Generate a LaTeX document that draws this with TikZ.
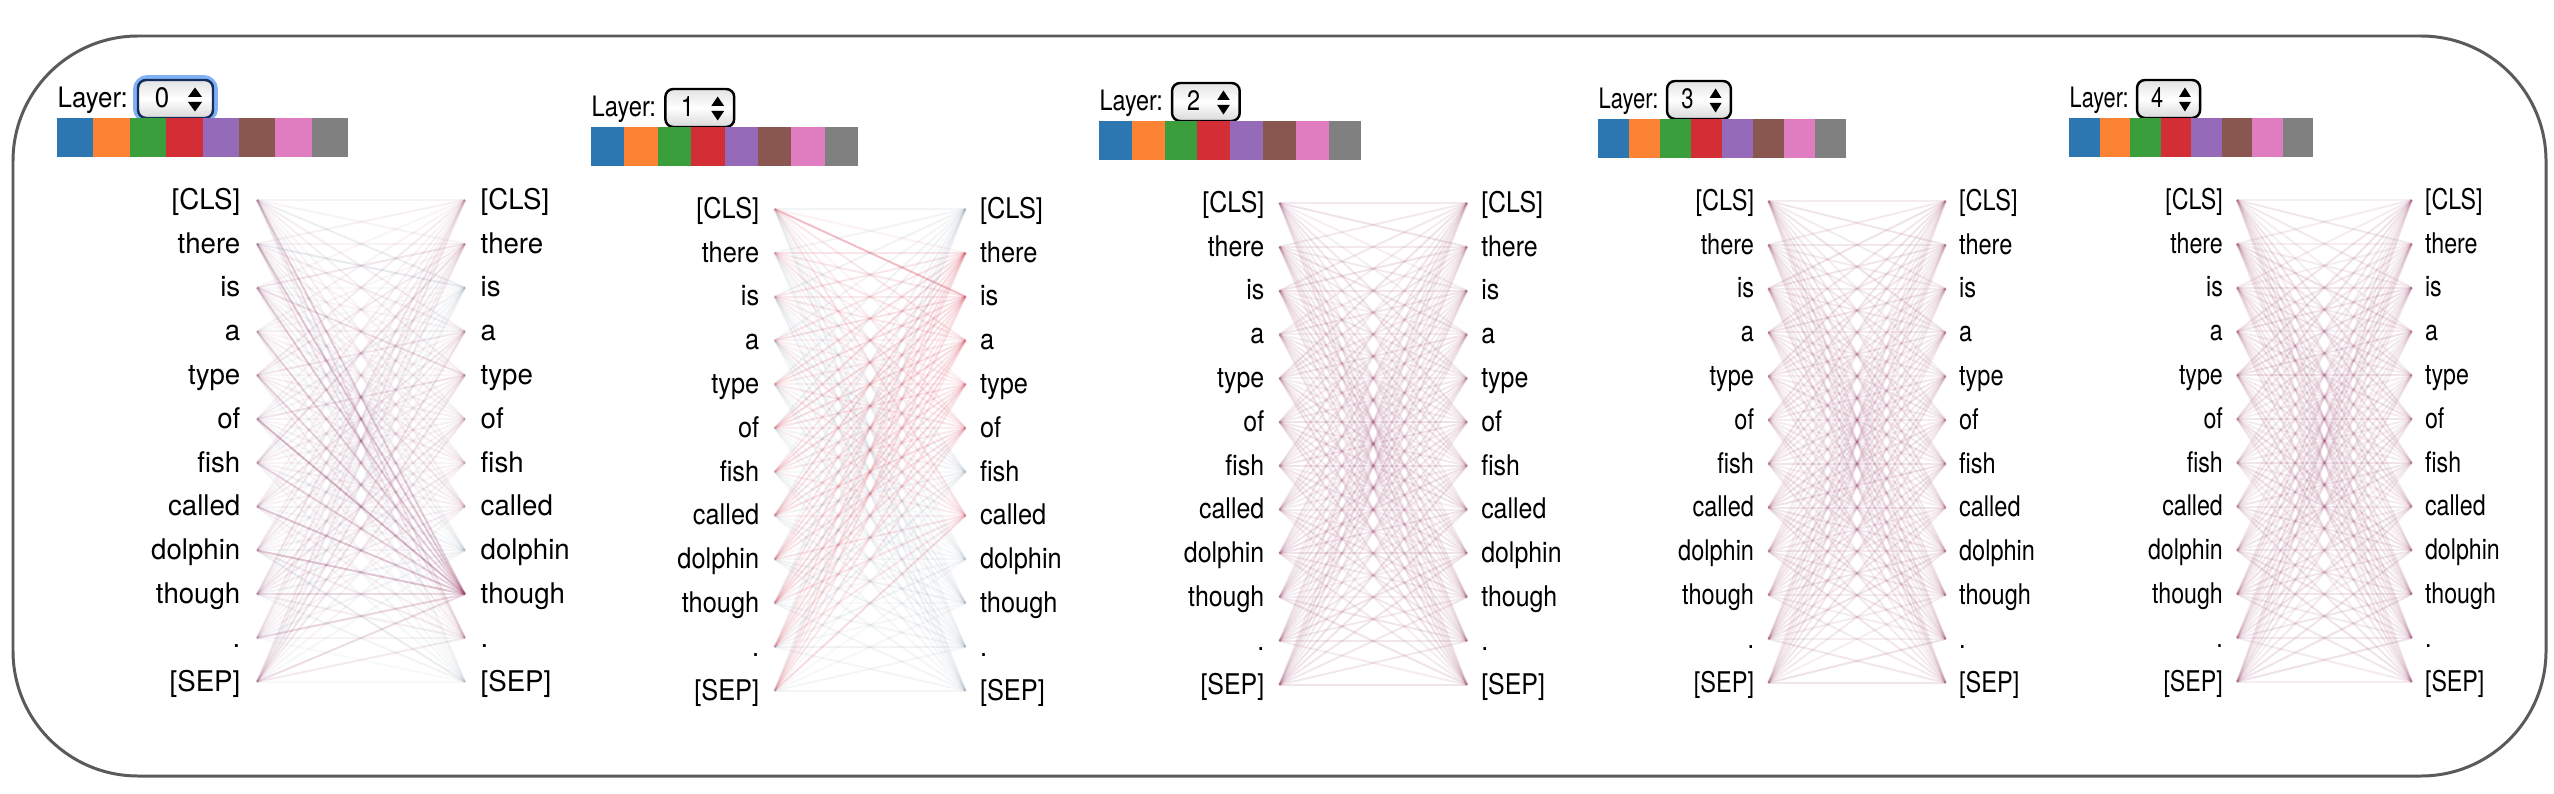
\documentclass[tikz,border=0pt]{standalone}
\usepackage{fontspec}
\setmainfont{TeX Gyre Heros}
\usepackage{graphicx}
\definecolor{hA}{HTML}{2C77B1}
\definecolor{hB}{HTML}{FC8234}
\definecolor{hC}{HTML}{3A9E3D}
\definecolor{hD}{HTML}{D32D35}
\definecolor{hE}{HTML}{956AB8}
\definecolor{hF}{HTML}{8A5750}
\definecolor{hG}{HTML}{DF7DC0}
\definecolor{hH}{HTML}{808080}
\definecolor{mauve}{RGB}{150,60,100}
\definecolor{redline}{RGB}{215,70,90}
\definecolor{greyline}{RGB}{120,140,160}
\definecolor{framegrey}{RGB}{90,90,90}
\definecolor{ringblue}{RGB}{128,176,246}
\definecolor{navy}{RGB}{20,45,90}
\tikzset{
  tok/.style={inner sep=0pt,font=\fontsize{8.1pt}{9.7pt}\selectfont,text=black},
  lbl/.style={inner sep=0pt,font=\fontsize{8pt}{9.6pt}\selectfont,text=black},
  att/.style={line width=0.55pt},
  selbox/.style={line width=0.7pt,rounded corners=0.08cm,top color=gray!22,bottom color=gray!30,middle color=white},
  frame/.style={draw=framegrey,line width=0.85pt,rounded corners=1.25cm},
}
\newcommand\attpanel[6]{%
  \pgfmathsetmacro\txs{0.92*#4}%
  \pgfmathsetmacro\tks{0.97*#4}%
  \begin{scope}[shift={(#2,#3)},xscale=#4]
    \node[lbl,anchor=base west] (#1lay) at (0,108) {\scalebox{\txs}[1]{Layer:}};
    \draw[selbox,draw=#6] (81,80) rectangle (156,118);
    \node[lbl,anchor=base] (#1num) at (105,108) {\scalebox{\txs}[1]{#5}};
    \fill (131,97) -- (145,97) -- (138,87.5) -- cycle;
    \fill (131,102) -- (145,102) -- (138,111.5) -- cycle;
    \foreach \c [count=\n from 0] in {hA,hB,hC,hD,hE,hF,hG,hH}
      \fill[\c] ({36.375*\n},118) rectangle ({36.375*(\n+1)},157);
    \foreach \t [count=\k from 0] in {{[CLS]},there,is,a,type,of,fish,called,dolphin,though,.,{[SEP]}}{
      \pgfmathsetmacro\yy{200+43.8*\k}
      \node[tok,anchor=mid east] (#1L\k) at (184,\yy) {\scalebox{\tks}[1]{\t}};
      \node[tok,anchor=mid west] (#1R\k) at (423,\yy) {\scalebox{\tks}[1]{\t}};
      \coordinate (#1l\k) at (200,\yy);
      \coordinate (#1r\k) at (408,\yy);
    }
  \end{scope}}
\begin{document}
\begin{tikzpicture}[x=0.01cm,y=-0.01cm]
\useasboundingbox (0,0) rectangle (2554,794);
\fill[white] (0,0) rectangle (2554,794);
\draw[frame] (13,36) rectangle (2546,776);
% focus ring of the first selector
\draw[ringblue,line width=1.42pt,rounded corners=0.12cm] (135.5,77.5) rectangle (215.5,120.5);
\attpanel{p0}{57}{0}{1}{0}{navy}
\attpanel{p1}{591}{9}{0.918}{1}{black}
\attpanel{p2}{1099}{3}{0.902}{2}{black}
\attpanel{p3}{1598}{1}{0.852}{3}{black}
\attpanel{p4}{2069}{0}{0.84}{4}{black}
% layer 0 attention
\pgfmathsetseed{7}
\foreach \i in {0,...,11}{\foreach \j in {0,...,11}{
  \pgfmathsetmacro\w{min(0.6,0.05+0.14*rnd*rnd+(\j==9)*(0.1+0.15*rnd)+(\i==11)*(\j<6)*0.06-(\j==11)*0.025)}
  \def\lc{mauve}\ifnum\j=2 \def\lc{greyline}\fi\ifnum\j=8 \def\lc{greyline}\fi\ifnum\j=11 \def\lc{greyline}\fi
  \draw[att,draw=\lc,opacity=\w] (p0l\i) -- (p0r\j);
}}
% layer 1 attention
\pgfmathsetseed{21}
\foreach \i in {0,...,11}{\foreach \j in {0,...,11}{
  \pgfmathtruncatemacro\isred{(\j>0)*(\j<6)+(\j==7)}
  \ifnum\isred=1
    \pgfmathsetmacro\w{min(0.6,0.05+0.1*rnd+(\i>\j)*0.05+(\i==0)*(\j==2)*0.22)}
    \def\lc{redline}
  \else
    \pgfmathsetmacro\w{0.05+0.07*rnd}
    \def\lc{greyline}
  \fi
  \draw[att,draw=\lc,opacity=\w] (p1l\i) -- (p1r\j);
}}
% layers 2-4 attention
\foreach \p/\s in {p2/5,p3/9,p4/13}{
  \pgfmathsetseed{\s}
  \foreach \i in {0,...,11}{\foreach \j in {0,...,11}{
    \pgfmathsetmacro\w{0.08+0.07*rnd}
    \draw[att,draw=mauve,opacity=\w] (\p l\i) -- (\p r\j);
  }}
}
\end{tikzpicture}
\end{document}
